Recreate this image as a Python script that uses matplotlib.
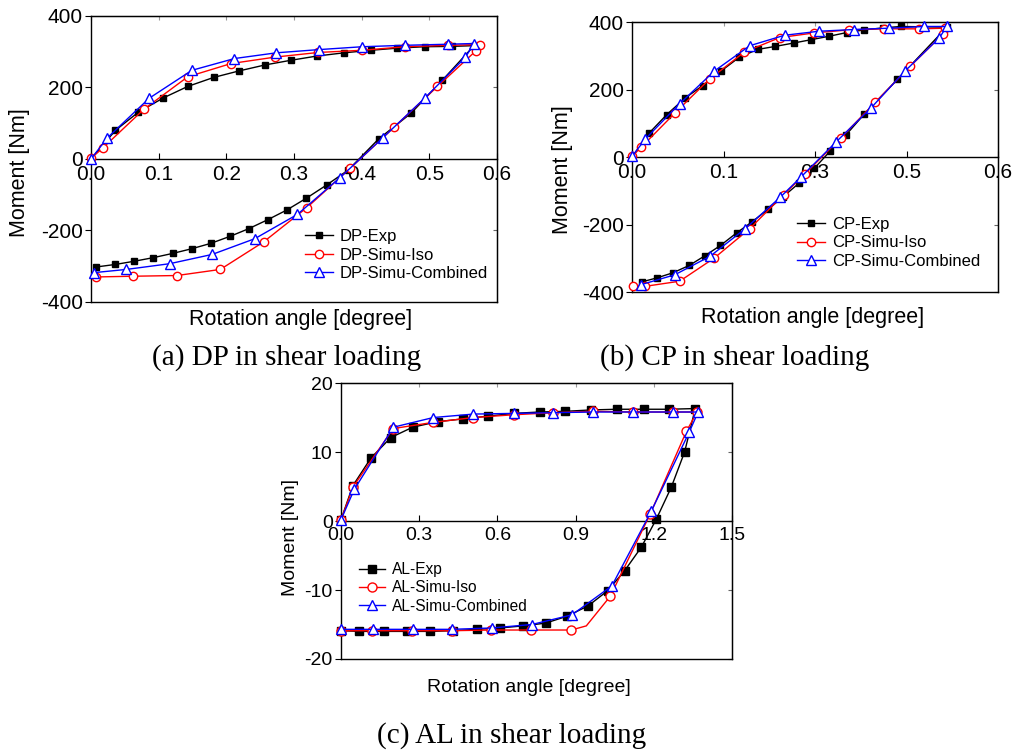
import matplotlib.pyplot as plt

plt.rcParams['font.family'] = ['Liberation Sans', 'DejaVu Sans']
plt.rcParams['axes.unicode_minus'] = False

# (a) DP - loading branch then unloading branch
dp_exp_x = [0.0, 0.036, 0.070, 0.107, 0.143, 0.181, 0.218, 0.257, 0.295, 0.334, 0.374, 0.413, 0.452, 0.493, 0.534, 0.566,
            0.519, 0.473, 0.425, 0.380, 0.348, 0.318, 0.289, 0.261, 0.233, 0.206, 0.177, 0.149, 0.121, 0.092, 0.064, 0.036, 0.008]
dp_exp_y = [0, 80, 131, 171, 203, 228, 246, 263, 276, 288, 297, 304, 310, 314, 315, 317,
            220, 128, 56, -31, -73, -110, -143, -170, -195, -216, -236, -251, -264, -276, -286, -295, -302]
dp_iso_x = [0.0, 0.017, 0.078, 0.143, 0.207, 0.272, 0.336, 0.400, 0.464, 0.528, 0.575,
            0.569, 0.512, 0.448, 0.383, 0.319, 0.255, 0.191, 0.127, 0.062, 0.007]
dp_iso_y = [2, 30, 139, 230, 267, 285, 298, 304, 314, 318, 320,
            303, 203, 89, -26, -136, -232, -309, -326, -328, -330]
dp_com_x = [0.0, 0.024, 0.086, 0.149, 0.212, 0.274, 0.337, 0.401, 0.464, 0.527, 0.566,
            0.553, 0.493, 0.431, 0.368, 0.305, 0.242, 0.179, 0.116, 0.052, 0.004]
dp_com_y = [0, 59, 170, 248, 281, 297, 306, 314, 318, 321, 323,
            284, 170, 59, -52, -155, -223, -267, -293, -309, -318]

# (b) CP
cp_exp_x = [0.0, 0.028, 0.057, 0.087, 0.116, 0.146, 0.176, 0.206, 0.235, 0.265, 0.294, 0.323, 0.352, 0.381, 0.412, 0.441, 0.516,
            0.435, 0.381, 0.350, 0.325, 0.299, 0.274, 0.248, 0.223, 0.196, 0.172, 0.145, 0.119, 0.094, 0.067, 0.041, 0.016]
cp_exp_y = [0, 71, 126, 175, 212, 255, 296, 319, 328, 338, 348, 358, 369, 377, 383, 387, 385,
            230, 128, 64, 18, -33, -77, -117, -155, -193, -224, -262, -293, -321, -343, -358, -370]
cp_iso_x = [0.0, 0.015, 0.070, 0.127, 0.184, 0.242, 0.299, 0.356, 0.413, 0.471, 0.513,
            0.510, 0.456, 0.399, 0.342, 0.284, 0.249, 0.193, 0.135, 0.078, 0.022, 0.001]
cp_iso_y = [2, 29, 130, 231, 311, 354, 368, 377, 380, 380, 382,
            365, 269, 163, 56, -49, -111, -212, -299, -368, -383, -383]
cp_com_x = [0.0, 0.022, 0.078, 0.135, 0.193, 0.250, 0.307, 0.364, 0.422, 0.479, 0.516,
            0.504, 0.447, 0.392, 0.334, 0.277, 0.243, 0.185, 0.128, 0.070, 0.015]
cp_com_y = [2, 54, 158, 255, 330, 361, 373, 378, 382, 387, 387,
            354, 254, 146, 44, -59, -119, -213, -294, -349, -378]

# (c) AL
al_exp_x = [0.0, 0.045, 0.114, 0.191, 0.275, 0.371, 0.467, 0.563, 0.662, 0.762, 0.860, 0.959, 1.058, 1.161, 1.259, 1.359,
            1.318, 1.267, 1.210, 1.152, 1.088, 1.023, 0.948, 0.867, 0.785, 0.698, 0.611, 0.521, 0.431, 0.342, 0.252, 0.163, 0.070, 0.0]
al_exp_y = [0.2, 5.1, 9.1, 12.1, 13.6, 14.4, 14.8, 15.2, 15.6, 15.8, 15.9, 16.1, 16.2, 16.2, 16.2, 16.3,
            10.0, 4.9, 0.3, -3.8, -7.2, -10.1, -12.3, -13.8, -14.8, -15.2, -15.5, -15.7, -15.9, -16.0, -16.0, -16.0, -16.0, -15.9]
al_iso_x = [0.0, 0.047, 0.200, 0.354, 0.508, 0.662, 0.813, 0.965, 1.119, 1.272, 1.366,
            1.325, 1.186, 1.033, 0.941, 0.883, 0.730, 0.576, 0.425, 0.271, 0.118, 0.0]
al_iso_y = [0.2, 5.0, 13.4, 14.3, 15.0, 15.4, 15.7, 15.9, 15.8, 15.8, 15.8,
            13.0, 1.0, -10.9, -15.2, -15.8, -15.8, -15.8, -15.9, -15.9, -15.9, -15.9]
al_iso_marks = [0, 1, 2, 3, 4, 5, 6, 7, 8, 9, 10, 11, 12, 13, 15, 16, 17, 18, 19, 20, 21]
al_com_x = [0.0, 0.051, 0.201, 0.354, 0.508, 0.662, 0.813, 0.966, 1.120, 1.272, 1.370,
            1.336, 1.190, 1.039, 0.886, 0.732, 0.579, 0.425, 0.275, 0.122, 0.0]
al_com_y = [0.2, 4.6, 13.6, 15.0, 15.5, 15.6, 15.7, 15.8, 15.8, 15.8, 15.8,
            12.9, 1.4, -9.4, -13.6, -15.0, -15.5, -15.7, -15.7, -15.7, -15.7]


fig = plt.figure(figsize=(10.15, 7.54), dpi=100)


def panel(rect, prefix, data, xlim, xticks, xticklabels, ylim, yticks, tick_fs, lab_fs,
          xlab_pos, ylab_pos, leg_pos, leg_fs, ms, iso_marks=None):
    ax = fig.add_axes(rect)
    (ex, ey), (ix, iy), (cx, cy) = data
    ax.plot(ex, ey, '-s', color='black', mfc='black', ms=ms, lw=1, clip_on=False, label=prefix + '-Exp', zorder=3)
    ax.plot(ix, iy, '-o', color='red', mfc='white', ms=ms + 1, lw=1, mew=1, clip_on=False,
            label=prefix + '-Simu-Iso', markevery=iso_marks, zorder=4)
    ax.plot(cx, cy, '-^', color='blue', mfc='white', ms=ms + 1.5, lw=1, mew=1, clip_on=False,
            label=prefix + '-Simu-Combined', zorder=5)
    ax.set_xlim(*xlim)
    ax.set_ylim(*ylim)
    ax.set_xticks(xticks)
    ax.set_xticklabels(xticklabels)
    ax.set_yticks(yticks)
    ax.spines['bottom'].set_position('zero')
    for s in ax.spines.values():
        s.set_linewidth(1)
    ax.plot([0, 1], [0, 0], transform=ax.transAxes, color='black', lw=1, clip_on=False)
    ax.tick_params(axis='x', direction='in', length=4, pad=4, labelsize=tick_fs)
    ax.tick_params(axis='y', direction='out', length=4, pad=2, labelsize=tick_fs)
    top = ax.secondary_xaxis('top')
    top.set_xticks(xticks)
    top.tick_params(direction='in', length=3, color='0.6', labeltop=False)
    right = ax.secondary_yaxis('right')
    right.set_yticks(yticks)
    right.tick_params(direction='in', length=3, color='0.4', labelright=False)
    ax.set_xlabel('Rotation angle [degree]', fontsize=lab_fs)
    ax.xaxis.set_label_coords(*xlab_pos)
    ax.xaxis.label.set_va('center')
    ax.set_ylabel('Moment [Nm]', fontsize=lab_fs)
    ax.yaxis.set_label_coords(*ylab_pos)
    ax.yaxis.label.set_va('center')
    ax.legend(loc='center left', bbox_to_anchor=leg_pos, bbox_transform=fig.transFigure,
              frameon=False, fontsize=leg_fs, borderpad=0, borderaxespad=0,
              handlelength=1.7, handletextpad=0.4, labelspacing=0.2)
    return ax


panel([0.0897, 0.5995, 0.4, 0.3793], 'DP',
      [(dp_exp_x, dp_exp_y), (dp_iso_x, dp_iso_y), (dp_com_x, dp_com_y)],
      (0, 0.6), [0, 0.1, 0.2, 0.3, 0.4, 0.5, 0.6], ['0.0', '0.1', '0.2', '0.3', '0.4', '0.5', '0.6'],
      (-400, 400), [-400, -200, 0, 200, 400], 15, 15.5,
      (0.517, -0.063), (-0.177, 0.451), (305 / 1015, 1 - 255 / 754), 12, 5)

panel([0.6227, 0.6127, 0.3606, 0.358], 'CP',
      [(cp_exp_x, cp_exp_y), (cp_iso_x, cp_iso_y), (cp_com_x, cp_com_y)],
      (0, 0.6), [0, 0.15, 0.3, 0.45, 0.6], ['0.0', '0.1', '0.3', '0.5', '0.6'],
      (-400, 400), [-400, -200, 0, 200, 400], 15, 15.5,
      (0.492, -0.093), (-0.191, 0.452), (797 / 1015, 1 - 243 / 754), 12, 5)

panel([0.336, 0.126, 0.3852, 0.366], 'AL',
      [(al_exp_x, al_exp_y), (al_iso_x, al_iso_y), (al_com_x, al_com_y)],
      (0, 1.5), [0, 0.3, 0.6, 0.9, 1.2, 1.5], ['0.0', '0.3', '0.6', '0.9', '1.2', '1.5'],
      (-20, 20), [-20, -10, 0, 10, 20], 14, 14,
      (0.481, -0.105), (-0.130, 0.442), (359 / 1015, 1 - 588 / 754), 11.2, 5.5, al_iso_marks)

cap = dict(fontsize=21, family='Liberation Serif', ha='center', va='baseline')
fig.text(287 / 1015, 1 - 365 / 754, '(a) DP in shear loading', **cap)
fig.text(735 / 1015, 1 - 365 / 754, '(b) CP in shear loading', **cap)
fig.text(512 / 1015, 1 - 743 / 754, '(c) AL in shear loading', **cap)

fig.savefig('out.png', dpi=100)
